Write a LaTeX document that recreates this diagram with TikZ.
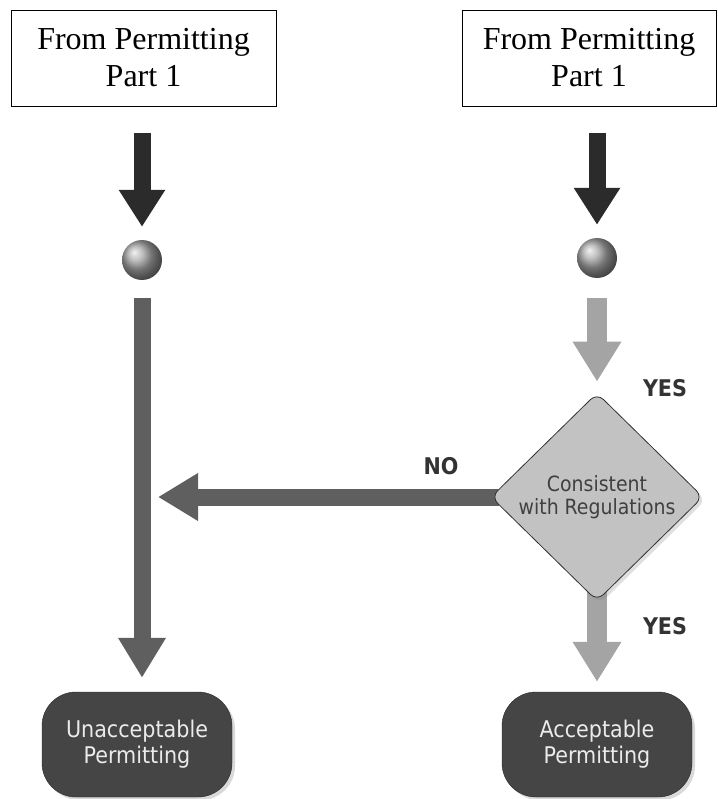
\documentclass[tikz,border=0pt]{standalone}
\usepackage{fontspec}
\setmainfont{Liberation Serif}
\newfontfamily\labelfont{DejaVu Sans Condensed}
\usepackage{tikz}
\usetikzlibrary{arrows.meta, shapes.geometric, shadows, backgrounds}
\usepackage{xcolor}

\definecolor{arrowdark}{HTML}{2B2B2B}
\definecolor{arrowmid}{HTML}{5F5F5F}
\definecolor{arrowlight}{HTML}{A4A4A4}
\definecolor{decisionfill}{HTML}{C2C2C2}
\definecolor{endfill}{HTML}{454545}

\tikzset{
  sourcebox/.style={draw, thick, minimum height=96pt, inner sep=0pt, align=center,
    font=\fontsize{32}{37}\selectfont},
  ball/.style={circle, minimum size=40pt, inner sep=0pt, shading=ball, ball color=gray!70},
  decision/.style={diamond, draw=black!80, thick, fill=decisionfill, aspect=1,
    minimum width=212pt, minimum height=208pt, inner sep=0pt, rounded corners=9pt,
    align=center, text=black!75, font=\labelfont\fontsize{21}{23}\selectfont,
    drop shadow={opacity=0.25, shadow xshift=3pt, shadow yshift=-3pt}},
  endbox/.style={draw=black!85, fill=endfill, rounded corners=34pt, text=white!92!black,
    minimum width=190pt, minimum height=105pt, align=center,
    font=\labelfont\fontsize{23}{26}\selectfont,
    drop shadow={opacity=0.3, shadow xshift=3pt, shadow yshift=-3pt}},
  answer/.style={text=black!80, font=\labelfont\bfseries\fontsize{23}{26}\selectfont},
  darkarrow/.style={draw=arrowdark, line width=17pt, -{Triangle[width=44pt,length=37pt]}},
  midarrow/.style={draw=arrowmid, line width=17pt, -{Triangle[width=45pt,length=40pt]}},
  lightarrow/.style={draw=arrowlight, line width=20pt, -{Triangle[width=46pt,length=40pt]}},
}

\begin{document}
\begin{tikzpicture}[x=1pt, y=-1pt]
\useasboundingbox (0,0) rectangle (717,799);

% Sources
\node[sourcebox, minimum width=265pt] (srcleft) at (143.5,58) {From Permitting\\Part 1};
\node[sourcebox, minimum width=254pt] (srcright) at (589,58) {From Permitting\\Part 1};

% Junction balls
\node[ball] (ballleft) at (142,260) {};
\node[ball] (ballright) at (597,258) {};

% Check and end states
\node[decision] (check) at (597,497) {Consistent\\with Regulations};
\node[endbox] (unaccept) at (137,744.5) {Unacceptable\\Permitting};
\node[endbox] (accept) at (597,744.5) {Acceptable\\Permitting};
\coordinate (merge) at (158,497);

% Arrows
\begin{scope}[on background layer]
\draw[darkarrow] ([yshift=-27pt]srcleft.south -| ballleft) -- ([yshift=13pt]ballleft.north);
\draw[darkarrow] ([yshift=-27pt]srcright.south -| ballright) -- ([yshift=13pt]ballright.north);
\draw[midarrow] ([yshift=-18pt]ballleft.south) -- ([yshift=14pt]unaccept.north -| ballleft);
\draw[lightarrow] ([yshift=-20pt]ballright.south) -- ([yshift=11pt]check.north);
\draw[midarrow] ([xshift=8pt]check.west) -- (merge);
\draw[lightarrow] ([yshift=10pt]check.south) -- ([yshift=10pt]accept.north);
\end{scope}

% Answers
\node[answer] (yesup) at (665,388) {YES};
\node[answer] (yesdown) at (665,626) {YES};
\node[answer] (no) at (441,466) {NO};
\end{tikzpicture}
\end{document}
